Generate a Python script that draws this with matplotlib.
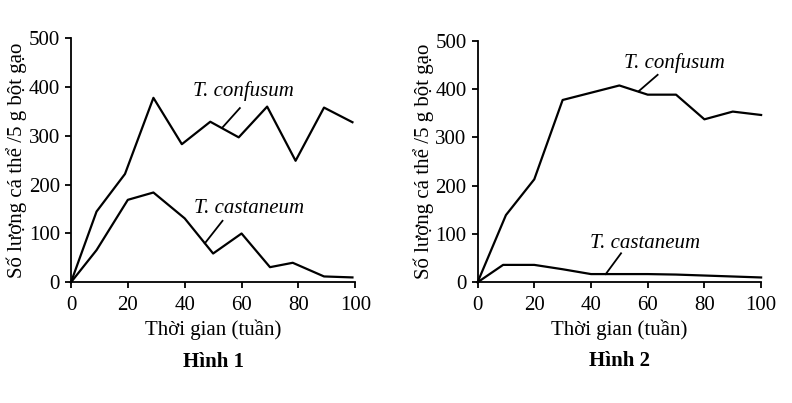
import matplotlib
matplotlib.use("Agg")
import matplotlib.pyplot as plt

plt.rcParams["font.family"] = ["Liberation Serif", "DejaVu Serif"]

# Hinh 1 - two species together
weeks_1 = [0, 9, 19, 29, 39, 49, 59, 69, 79, 89, 99]
confusum_1 = [0, 145, 222, 378, 283, 329, 297, 360, 249, 358, 328]
castaneum_weeks_1 = [0, 9, 20, 29, 40, 50, 60, 70, 78, 89, 99]
castaneum_1 = [0, 66, 169, 184, 131, 59, 100, 31, 40, 12, 10]

# Hinh 2
weeks_2 = [0, 10, 20, 30, 40, 50, 60, 70, 80, 90, 100]
confusum_2 = [0, 139, 213, 377, 392, 407, 388, 388, 337, 353, 346]
castaneum_weeks_2 = [0, 9, 20, 30, 40, 50, 60, 70, 80, 90, 100]
castaneum_2 = [0, 36, 36, 27, 17, 17, 17, 16, 14, 12, 10]

x_ticks = [0, 20, 40, 60, 80, 100]
y_ticks = [0, 100, 200, 300, 400, 500]
ylabel = "Số lượng cá thể /5 g bột gạo"
xlabel = "Thời gian (tuần)"
fs = 15

fig = plt.figure(figsize=(7.92, 4.03), dpi=100)
ax1 = fig.add_axes([0.0896, 0.2995, 0.359, 0.6055])
ax2 = fig.add_axes([0.603, 0.2995, 0.358, 0.600])


def style(ax, title):
    ax.set_xlim(0, 100)
    ax.set_ylim(0, 500)
    ax.set_xticks(x_ticks)
    ax.set_yticks(y_ticks)
    for s in ("top", "right"):
        ax.spines[s].set_visible(False)
    for s in ("left", "bottom"):
        ax.spines[s].set_linewidth(1.3)
    ax.tick_params(direction="out", length=4, width=1.3, labelsize=fs, pad=4)
    ax.tick_params(axis="x", pad=6)
    ax.set_xlabel(xlabel, fontsize=fs, labelpad=3)
    ax.set_ylabel(ylabel, fontsize=fs, labelpad=1)
    ax.text(0.5, -0.327, title, transform=ax.transAxes, ha="center", va="center",
            fontsize=fs, fontweight="bold")


ax1.plot(weeks_1, confusum_1, color="black", lw=1.6, clip_on=False)
ax1.plot(castaneum_weeks_1, castaneum_1, color="black", lw=1.6, clip_on=False)
ax1.text(60.5, 392, "T. confusum", style="italic", fontsize=fs, ha="center", va="center")
ax1.plot([59.4, 53.4], [357, 318], color="black", lw=1.3)
ax1.text(62.6, 152, "T. castaneum", style="italic", fontsize=fs, ha="center", va="center")
ax1.plot([53.3, 47.1], [126, 80], color="black", lw=1.3)
style(ax1, "Hình 1")

ax2.plot(weeks_2, confusum_2, color="black", lw=1.6, clip_on=False)
ax2.plot(castaneum_weeks_2, castaneum_2, color="black", lw=1.6, clip_on=False)
ax2.text(69.6, 454, "T. confusum", style="italic", fontsize=fs, ha="center", va="center")
ax2.plot([63.5, 56.8], [429, 395], color="black", lw=1.3)
ax2.text(58.9, 81, "T. castaneum", style="italic", fontsize=fs, ha="center", va="center")
ax2.plot([50.6, 45.2], [60, 17], color="black", lw=1.3)
style(ax2, "Hình 2")

fig.savefig("out.png", dpi=100)
